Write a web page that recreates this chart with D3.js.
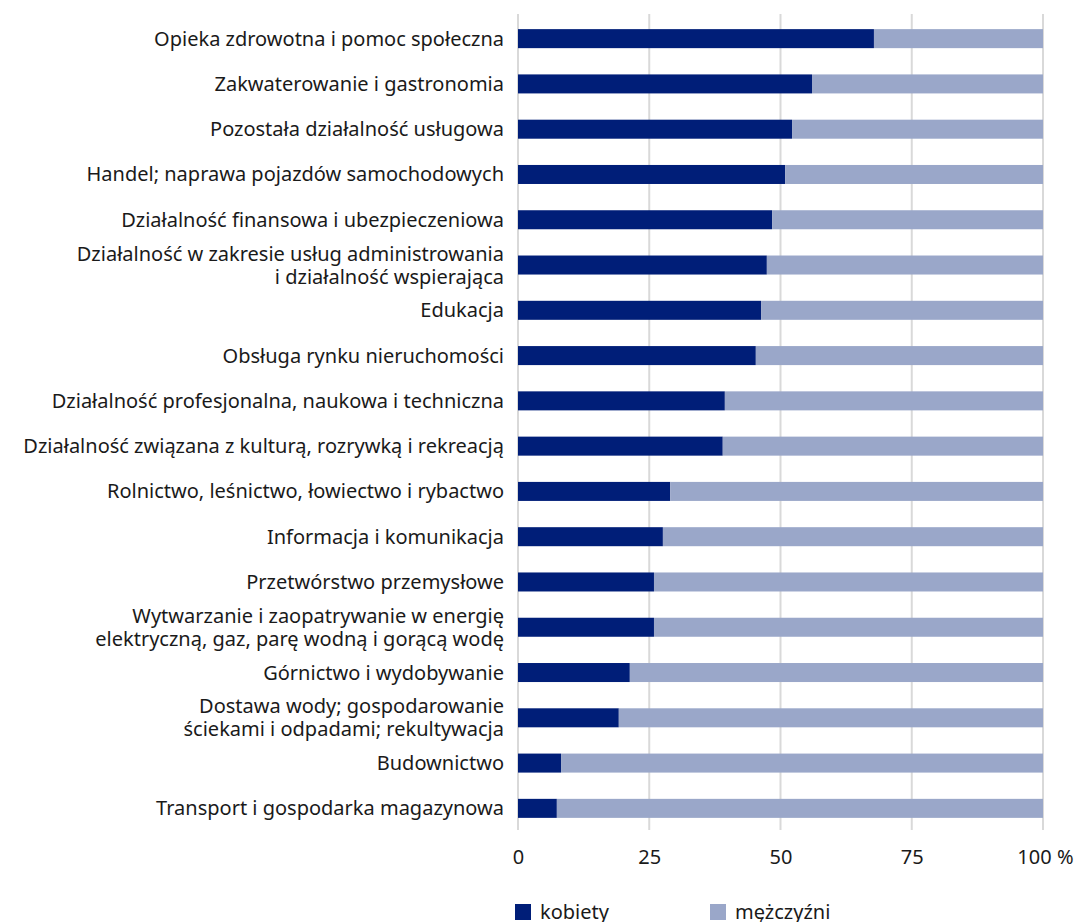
<!DOCTYPE html>
<html>
<head>
<meta charset="utf-8">
<script src="https://cdn.jsdelivr.net/npm/d3@7"></script>
<style>
	body { margin: 0; background: #fff; }
	text { font-family: "Noto Sans", "Open Sans", sans-serif; fill: #1a1a1a; }
</style>
</head>
<body>
<svg id="chart" width="1076" height="922"></svg>
<script>
// categories, top to bottom (multi-line labels split with |)
var categories = [
	"Opieka zdrowotna i pomoc społeczna",
	"Zakwaterowanie i gastronomia",
	"Pozostała działalność usługowa",
	"Handel; naprawa pojazdów samochodowych",
	"Działalność finansowa i ubezpieczeniowa",
	"Działalność w zakresie usług administrowania|i działalność wspierająca",
	"Edukacja",
	"Obsługa rynku nieruchomości",
	"Działalność profesjonalna, naukowa i techniczna",
	"Działalność związana z kulturą, rozrywką i rekreacją",
	"Rolnictwo, leśnictwo, łowiectwo i rybactwo",
	"Informacja i komunikacja",
	"Przetwórstwo przemysłowe",
	"Wytwarzanie i zaopatrywanie w energię|elektryczną, gaz, parę wodną i gorącą wodę",
	"Górnictwo i wydobywanie",
	"Dostawa wody; gospodarowanie|ściekami i odpadami; rekultywacja",
	"Budownictwo",
	"Transport i gospodarka magazynowa"
];
// share of women, %
var kobiety = [67.8, 56.0, 52.2, 50.9, 48.4, 47.4, 46.3, 45.3, 39.4, 39.0, 29.0, 27.6, 25.9, 25.9, 21.3, 19.2, 8.2, 7.4];
var mezczyzni = kobiety.map(function (v) { return 100 - v; });
var seriesNames = ["kobiety", "mężczyźni"];
var seriesColors = ["#001e78", "#9aa7c9"];
var ticks = [0, 25, 50, 75, 100];

var svg = d3.select("#chart");
var plotLeft = 518, plotRight = 1043, plotTop = 16, plotBottom = 831;
var fontSize = 20;

var x = d3.scaleLinear().domain([0, 100]).range([plotLeft, plotRight]);
var y = d3.scaleBand().domain(categories).range([plotTop, plotBottom]).paddingInner(0.58).paddingOuter(0.29);

// gridlines
svg.append("g").selectAll("line").data(ticks).enter().append("line")
	.attr("x1", function (d) { return x(d); })
	.attr("x2", function (d) { return x(d); })
	.attr("y1", 14)
	.attr("y2", 830)
	.attr("stroke", "#d9d9d9")
	.attr("stroke-width", 2);

// bars
var rows = categories.map(function (c, i) { return { cat: c, k: kobiety[i], m: mezczyzni[i] }; });
var stack = d3.stack().keys(["k", "m"])(rows);

svg.append("g").selectAll("g").data(stack).enter().append("g")
	.attr("fill", function (d, i) { return seriesColors[i]; })
	.selectAll("rect").data(function (d) { return d; }).enter().append("rect")
	.attr("x", function (d) { return x(d[0]); })
	.attr("width", function (d) { return x(d[1]) - x(d[0]); })
	.attr("y", function (d) { return y(d.data.cat); })
	.attr("height", y.bandwidth());

// category labels
var labels = svg.append("g").selectAll("text").data(categories).enter().append("text")
	.attr("text-anchor", "end")
	.attr("font-size", fontSize)
	.attr("y", function (d) { return y(d) + y.bandwidth() / 2; });
labels.each(function (d) {
	var lines = d.split("|");
	var t = d3.select(this);
	lines.forEach(function (line, i) {
		t.append("tspan")
			.attr("x", 504)
			.attr("dy", i === 0 ? (-(lines.length - 1) * 11.5 + 7) : 23)
			.text(line);
	});
});

// x axis labels
var axis = d3.axisBottom(x).tickValues(ticks).tickSize(0).tickPadding(0)
	.tickFormat(function (d) { return d === 100 ? "100 %" : d; });
var ax = svg.append("g").attr("transform", "translate(0,857)").call(axis);
ax.select(".domain").remove();
ax.selectAll("text").attr("font-size", fontSize).attr("font-family", null).attr("fill", "#1a1a1a").attr("dy", "0.35em");
// last label ends close to the right edge
ax.selectAll("text").filter(function (d) { return d === 100; })
	.attr("text-anchor", "end").attr("x", 30);

// legend
var legendX = [515, 710];
var lg = svg.append("g").selectAll("g").data(seriesNames).enter().append("g")
	.attr("transform", function (d, i) { return "translate(" + legendX[i] + ",904)"; });
lg.append("rect").attr("width", 16).attr("height", 16)
	.attr("fill", function (d, i) { return seriesColors[i]; });
lg.append("text").attr("x", 25).attr("y", 8).attr("dy", "0.35em").attr("font-size", fontSize)
	.text(function (d) { return d; });
</script>
</body>
</html>
